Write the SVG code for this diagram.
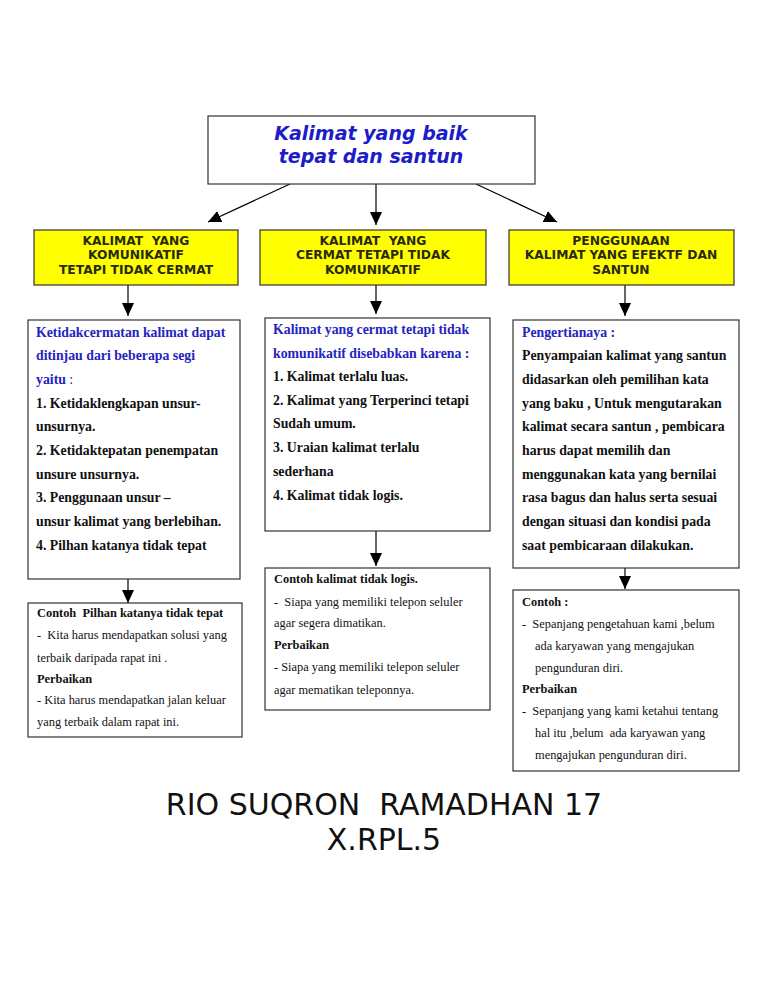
<svg xmlns="http://www.w3.org/2000/svg" width="768" height="994" viewBox="0 0 768 994">
<defs>
<marker id="ah" viewBox="0 0 13 12" refX="13" refY="6" markerWidth="13" markerHeight="12" markerUnits="userSpaceOnUse" orient="auto">
<path d="M0,0 L13,6 L0,12 Z" fill="#000"/>
</marker>
</defs>
<style>
.box{fill:#fff;stroke:#333;stroke-width:1.2}
.ybox{fill:#ffff00;stroke:#333;stroke-width:1.2}
.title{font-family:"DejaVu Sans",Verdana,sans-serif;font-weight:bold;font-style:italic;font-size:19px;fill:#1c1cc8;text-anchor:middle}
.cap{font-family:"DejaVu Sans",Verdana,sans-serif;font-weight:bold;font-size:12.3px;fill:#2a2a10;text-anchor:middle}
.b{font-family:"Liberation Serif","Times New Roman",serif;font-weight:bold;font-size:13.8px;fill:#111}
.bl{fill:#2424c0}
.s{font-family:"Liberation Serif","Times New Roman",serif;font-size:12.4px;fill:#111}
.sb{font-weight:bold}
.foot{font-family:"DejaVu Sans",Verdana,sans-serif;font-size:30px;fill:#111;text-anchor:middle}
.ln{stroke:#000;stroke-width:1.2;fill:none}
</style>
<rect width="768" height="994" fill="#fff"/>

<g id="connectors">
<line class="ln" x1="290" y1="184" x2="208" y2="222" marker-end="url(#ah)"/>
<line class="ln" x1="376" y1="184" x2="376" y2="225" marker-end="url(#ah)"/>
<line class="ln" x1="476" y1="184" x2="557" y2="222" marker-end="url(#ah)"/>
<line class="ln" x1="128" y1="285" x2="128" y2="316" marker-end="url(#ah)"/>
<line class="ln" x1="376" y1="285" x2="376" y2="314" marker-end="url(#ah)"/>
<line class="ln" x1="625" y1="285" x2="625" y2="316" marker-end="url(#ah)"/>
<line class="ln" x1="128" y1="579" x2="128" y2="603" marker-end="url(#ah)"/>
<line class="ln" x1="376" y1="531" x2="376" y2="566" marker-end="url(#ah)"/>
<line class="ln" x1="625" y1="568" x2="625" y2="589" marker-end="url(#ah)"/>
</g>

<g id="root">
<rect class="box" x="208" y="116" width="327" height="68"/>
<text class="title" x="371" y="140">Kalimat yang baik</text>
<text class="title" x="371" y="163">tepat dan santun</text>
</g>

<g id="cat1">
<rect class="ybox" x="34" y="230" width="204" height="55"/>
<text class="cap" x="136" y="245" xml:space="preserve">KALIMAT  YANG</text>
<text class="cap" x="136" y="259">KOMUNIKATIF</text>
<text class="cap" x="136" y="274">TETAPI TIDAK CERMAT</text>
</g>
<g id="cat2">
<rect class="ybox" x="260" y="230" width="226" height="55"/>
<text class="cap" x="373" y="245" xml:space="preserve">KALIMAT  YANG</text>
<text class="cap" x="373" y="259">CERMAT TETAPI TIDAK</text>
<text class="cap" x="373" y="274">KOMUNIKATIF</text>
</g>
<g id="cat3">
<rect class="ybox" x="509" y="230" width="225" height="55"/>
<text class="cap" x="621" y="245">PENGGUNAAN</text>
<text class="cap" x="621" y="259">KALIMAT YANG EFEKTF DAN</text>
<text class="cap" x="621" y="274">SANTUN</text>
</g>

<g id="descA">
<rect class="box" x="28" y="320" width="212" height="259"/>
<text class="b bl" x="36" y="337">Ketidakcermatan kalimat dapat</text>
<text class="b bl" x="36" y="360">ditinjau dari beberapa segi</text>
<text class="b bl" x="36" y="384">yaitu <tspan font-weight="normal">:</tspan></text>
<text class="b" x="36" y="408">1. Ketidaklengkapan unsur-</text>
<text class="b" x="36" y="431">unsurnya.</text>
<text class="b" x="36" y="455">2. Ketidaktepatan penempatan</text>
<text class="b" x="36" y="479">unsure unsurnya.</text>
<text class="b" x="36" y="502">3. Penggunaan unsur –</text>
<text class="b" x="36" y="526">unsur kalimat yang berlebihan.</text>
<text class="b" x="36" y="550">4. Pilhan katanya tidak tepat</text>
</g>

<g id="descB">
<rect class="box" x="265" y="318" width="225" height="213"/>
<text class="b bl" x="273" y="334">Kalimat yang cermat tetapi tidak</text>
<text class="b bl" x="273" y="358">komunikatif disebabkan karena :</text>
<text class="b" x="273" y="381">1. Kalimat terlalu luas.</text>
<text class="b" x="273" y="405">2. Kalimat yang Terperinci tetapi</text>
<text class="b" x="273" y="428">Sudah umum.</text>
<text class="b" x="273" y="452">3. Uraian kalimat terlalu</text>
<text class="b" x="273" y="476">sederhana</text>
<text class="b" x="273" y="500">4. Kalimat tidak logis.</text>
</g>

<g id="descC">
<rect class="box" x="513" y="320" width="226" height="248"/>
<text class="b bl" x="522" y="337">Pengertianaya :</text>
<text class="b" x="522" y="360">Penyampaian kalimat yang santun</text>
<text class="b" x="522" y="384">didasarkan oleh pemilihan kata</text>
<text class="b" x="522" y="408">yang baku , Untuk mengutarakan</text>
<text class="b" x="522" y="431">kalimat secara santun , pembicara</text>
<text class="b" x="522" y="455">harus dapat memilih dan</text>
<text class="b" x="522" y="479">menggunakan kata yang bernilai</text>
<text class="b" x="522" y="502">rasa bagus dan halus serta sesuai</text>
<text class="b" x="522" y="526">dengan situasi dan kondisi pada</text>
<text class="b" x="522" y="550">saat pembicaraan dilakukan.</text>
</g>

<g id="exA">
<rect class="box" x="28" y="603" width="214" height="134"/>
<text class="s sb" x="37" y="617" xml:space="preserve">Contoh  Pilhan katanya tidak tepat</text>
<text class="s" x="37" y="639" xml:space="preserve">-  Kita harus mendapatkan solusi yang</text>
<text class="s" x="37" y="662">terbaik daripada rapat ini .</text>
<text class="s sb" x="37" y="683">Perbaikan</text>
<text class="s" x="37" y="704">- Kita harus mendapatkan jalan keluar</text>
<text class="s" x="37" y="726">yang terbaik dalam rapat ini.</text>
</g>

<g id="exB">
<rect class="box" x="265" y="568" width="225" height="142"/>
<text class="s sb" x="274" y="583">Contoh kalimat tidak logis.</text>
<text class="s" x="274" y="606" xml:space="preserve">-  Siapa yang memiliki telepon seluler</text>
<text class="s" x="274" y="627">agar segera dimatikan.</text>
<text class="s sb" x="274" y="649">Perbaikan</text>
<text class="s" x="274" y="671">- Siapa yang memiliki telepon seluler</text>
<text class="s" x="274" y="694">agar mematikan teleponnya.</text>
</g>

<g id="exC">
<rect class="box" x="513" y="590" width="226" height="181"/>
<text class="s sb" x="522" y="606">Contoh :</text>
<text class="s" x="522" y="628" xml:space="preserve">-  Sepanjang pengetahuan kami ,belum</text>
<text class="s" x="535" y="650">ada karyawan yang mengajukan</text>
<text class="s" x="535" y="672">pengunduran diri.</text>
<text class="s sb" x="522" y="693">Perbaikan</text>
<text class="s" x="522" y="715" xml:space="preserve">-  Sepanjang yang kami ketahui tentang</text>
<text class="s" x="535" y="737" xml:space="preserve">hal itu ,belum  ada karyawan yang</text>
<text class="s" x="535" y="759">mengajukan pengunduran diri.</text>
</g>

<g id="footer">
<text class="foot" x="384" y="815" xml:space="preserve">RIO SUQRON  RAMADHAN 17</text>
<text class="foot" x="384" y="850">X.RPL.5</text>
</g>
</svg>
